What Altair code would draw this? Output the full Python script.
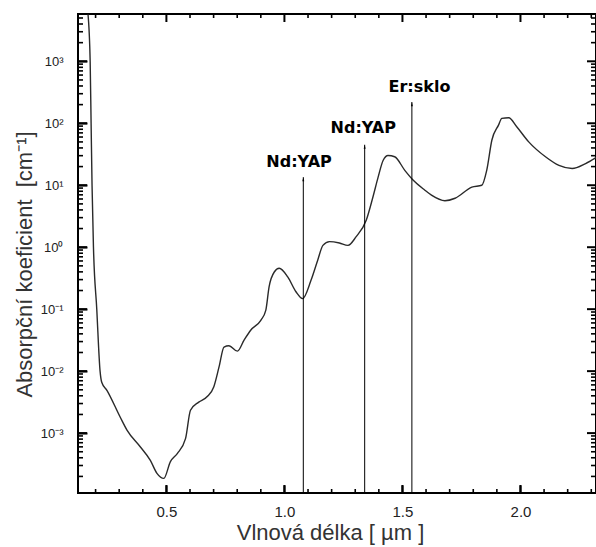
import altair as alt
import pandas as pd

# ---- data ----
wavelength_um = [0.168, 0.177, 0.181, 0.185, 0.191, 0.205, 0.219, 0.226, 0.248, 0.304,
                 0.333, 0.389, 0.432, 0.460, 0.489, 0.517, 0.546, 0.581, 0.602, 0.637,
                 0.673, 0.701, 0.723, 0.744, 0.765, 0.801, 0.829, 0.857, 0.900, 0.921,
                 0.935, 0.957, 0.978, 1.014, 1.049, 1.077, 1.113, 1.141, 1.163, 1.191,
                 1.233, 1.269, 1.304, 1.347, 1.375, 1.397, 1.418, 1.439, 1.467, 1.510,
                 1.546, 1.595, 1.623, 1.680, 1.723, 1.794, 1.836, 1.857, 1.879, 1.907,
                 1.921, 1.950, 1.985, 2.035, 2.106, 2.163, 2.219, 2.276, 2.326]
absorption_cm = [5700, 1000, 100, 10, 1.0, 0.1, 0.01, 0.0066, 0.0049, 0.00182,
                 0.00112, 0.000603, 0.000363, 0.000224, 0.000186, 0.000347, 0.000468, 0.000813, 0.00234, 0.00316,
                 0.00389, 0.00562, 0.0117, 0.0245, 0.0257, 0.0210, 0.0316, 0.0457, 0.0661, 0.0955,
                 0.229, 0.398, 0.457, 0.331, 0.191, 0.148, 0.295, 0.617, 1.07, 1.23,
                 1.17, 1.07, 1.48, 2.75, 6.46, 13.5, 25.1, 30.2, 28.8, 17.4,
                 12.0, 8.32, 6.92, 5.62, 6.17, 9.33, 10.0, 17.4, 53.7, 93.3,
                 120, 123, 87.1, 50.1, 28.8, 20.9, 18.6, 22.4, 28.8]

arrow_x = [1.08, 1.34, 1.54]
arrow_top = [13.5, 45, 220]
label_text = ["Nd:YAP", "Nd:YAP", "Er:sklo"]
label_x = [1.062, 1.334, 1.572]
label_y = [20, 69, 316]

x_domain = [0.1255, 2.32]
y_domain = [1.08e-4, 5800]
x_major = [0.5, 1.0, 1.5, 2.0]
x_minor = [0.2, 0.3, 0.4, 0.6, 0.7, 0.8, 0.9, 1.1, 1.2, 1.3, 1.4, 1.6, 1.7, 1.8, 1.9, 2.1, 2.2, 2.3]
y_major = [1e-3, 1e-2, 1e-1, 1, 10, 100, 1000]
y_minor = [float(f"{m}e{k}") for k in range(-4, 4) for m in range(2, 10)
           if y_domain[0] < float(f"{m}e{k}") < y_domain[1]]

curve = pd.DataFrame({"wl": wavelength_um, "a": absorption_cm})
arrows = pd.DataFrame({"ax": arrow_x, "top": arrow_top, "base": [y_domain[0]] * len(arrow_x)})
labels = pd.DataFrame({"lx": label_x, "ly": label_y, "t": label_text})

W, H = 518, 479
FONT = "Liberation Sans"
xs = alt.Scale(domain=x_domain, nice=False, zero=False)
ys = alt.Scale(type="log", domain=y_domain, nice=False)

sup = "['⁻⁴','⁻³','⁻²','⁻¹','⁰','¹','²','³'][round(log(datum.value)/LN10)+4]"


def inward(n):
    # ticks pointing into the plot area
    return {"expr": str(-n)}


common = dict(domain=False, grid=False, ticks=True, tickColor="black", tickWidth=2,
              labelOverlap=False, zindex=1)

main = alt.Chart(curve).mark_line(
    color="#2a2a2a", strokeWidth=1.4, interpolate="monotone", clip=True
).encode(
    x=alt.X("wl:Q", scale=xs, axis=alt.Axis(
        orient="bottom", values=x_major, format=".1f", tickSize=inward(8),
        labelPadding=19, labelFont=FONT, labelFontSize=15, labelColor="#222",
        title="Vlnová délka [ µm ]", titleFont=FONT, titleFontSize=22, titleFontWeight="normal",
        titleColor="#333", titlePadding=3, titleX=252, **common)),
    y=alt.Y("a:Q", scale=ys, axis=alt.Axis(
        orient="left", values=y_major, labelExpr="'10' + " + sup, tickSize=inward(9),
        labelPadding=24, labelFont=FONT, labelFontSize=13, labelColor="#222", labelBaseline="middle",
        title="Absorpční koeficient\u00a0 [cm⁻¹]", titleFont=FONT, titleFontSize=22,
        titleFontWeight="normal", titleColor="#333", titlePadding=4, titleY=250, **common)),
)


# inward-pointing tick marks on all four sides of the frame
def xticks(values, length, width):
    d = pd.DataFrame({"v": values})
    bottom = alt.Chart(d).mark_rule(color="black", strokeWidth=width).encode(
        x=alt.X("v:Q", scale=xs, axis=None), y=alt.value(H + 1), y2=alt.value(H - length))
    top = alt.Chart(d).mark_rule(color="black", strokeWidth=width).encode(
        x=alt.X("v:Q", scale=xs, axis=None), y=alt.value(-1), y2=alt.value(length))
    return [bottom, top]


def yticks(values, length, width):
    d = pd.DataFrame({"v": values})
    left = alt.Chart(d).mark_rule(color="black", strokeWidth=width).encode(
        y=alt.Y("v:Q", scale=ys, axis=None), x=alt.value(-1), x2=alt.value(length))
    right = alt.Chart(d).mark_rule(color="black", strokeWidth=width).encode(
        y=alt.Y("v:Q", scale=ys, axis=None), x=alt.value(W + 1), x2=alt.value(W - length))
    return [left, right]


tick_layers = (xticks(x_major, 8, 2) + xticks(x_minor, 4, 1.6)
               + yticks(y_major, 9, 2) + yticks(y_minor, 5, 1.6))

rules = alt.Chart(arrows).mark_rule(color="black", strokeWidth=1).encode(
    x=alt.X("ax:Q", scale=xs, axis=None),
    y=alt.Y("top:Q", scale=ys, axis=None),
    y2="base:Q")
heads = alt.Chart(arrows).mark_point(
    shape="M0,0L0.35,1.5L-0.35,1.5Z", filled=True, color="black", size=30, opacity=1).encode(
    x=alt.X("ax:Q", scale=xs, axis=None),
    y=alt.Y("top:Q", scale=ys, axis=None))
texts = alt.Chart(labels).mark_text(
    font="DejaVu Sans", fontWeight="bold", fontSize=16, align="center", baseline="alphabetic",
    color="black").encode(
    x=alt.X("lx:Q", scale=xs, axis=None),
    y=alt.Y("ly:Q", scale=ys, axis=None),
    text="t:N")

chart = alt.layer(main, *tick_layers, rules, heads, texts).resolve_axis(
    x="independent", y="independent"
).properties(
    width=W, height=H,
    autosize=alt.AutoSizeParams(type="none"),
    padding={"left": 78, "top": 14, "right": 0, "bottom": 54},
    background="white",
).configure_view(stroke="black", strokeWidth=2)

chart.save("out.html", embed_options={"renderer": "svg", "actions": False})
